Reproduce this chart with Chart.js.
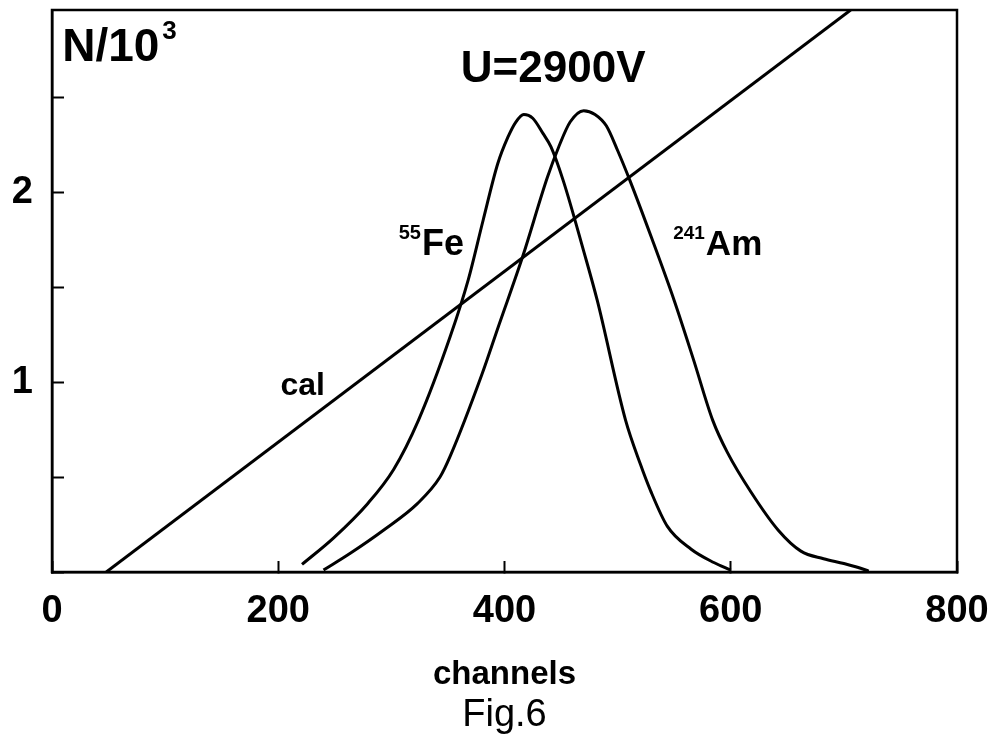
<!DOCTYPE html>
<html>
<head>
<meta charset="utf-8">
<script src="https://cdn.jsdelivr.net/npm/chart.js@4"></script>
<style>
    html, body { margin: 0; padding: 0; background: #fff; }
    #divChartFig6 { width: 1004px; height: 734px; }
</style>
</head>
<body>
<div id="divChartFig6"><canvas id="chartFig6"></canvas></div>
<script>
// spectra: channel -> N/10^3
var feChannels = [221, 249, 279, 302, 324, 352, 368, 381, 394, 403, 410, 417, 425, 434, 441, 452, 470, 482, 507, 520, 529, 544, 565, 585, 600];
var feCounts   = [0.04, 0.18, 0.36, 0.54, 0.80, 1.24, 1.54, 1.85, 2.15, 2.29, 2.37, 2.41, 2.39, 2.31, 2.24, 2.06, 1.69, 1.43, 0.80, 0.57, 0.43, 0.24, 0.12, 0.05, 0.01];

var amChannels = [240, 264, 293, 323, 343, 352, 380, 395, 416, 438, 448, 458, 470, 480, 490, 500, 511, 530, 550, 567, 584, 597, 618, 642, 662, 682, 700, 712, 722];
var amCounts   = [0.01, 0.10, 0.22, 0.36, 0.50, 0.61, 1.04, 1.30, 1.66, 2.08, 2.24, 2.37, 2.43, 2.41, 2.35, 2.22, 2.06, 1.76, 1.43, 1.12, 0.80, 0.63, 0.42, 0.22, 0.11, 0.07, 0.045, 0.025, 0.005];

// calibration line
var calChannels = [48, 706];
var calCounts   = [0, 2.96];

var xTickValues = [0, 200, 400, 600, 800];
var yTickValues = [0, 0.5, 1, 1.5, 2, 2.5];
var yTickLabels = { 1: '1', 2: '2' };

var fontFamily = '"Liberation Sans", Arial, Helvetica, sans-serif';

function toPoints(xs, ys) {
    var pts = [];
    for (var i = 0; i < xs.length; i++) {
        pts.push({ x: xs[i], y: ys[i] });
    }
    return pts;
}

// text with a small raised prefix, e.g. 55Fe
function drawSupText(ctx, sup, base, x, y, size) {
    ctx.font = 'bold ' + Math.round(size * 0.55) + 'px ' + fontFamily;
    var w = ctx.measureText(sup).width;
    ctx.fillText(sup, x - w - 1, y - size * 0.45);
    ctx.font = 'bold ' + size + 'px ' + fontFamily;
    ctx.fillText(base, x, y);
}

var annotations = {
    id: 'annotations',
    afterDraw: function(chart) {
        var ctx = chart.ctx;
        var xs = chart.scales.x, ys = chart.scales.y;
        var area = chart.chartArea;
        ctx.save();
        ctx.fillStyle = '#000';
        ctx.textBaseline = 'alphabetic';
        ctx.textAlign = 'left';

        // frame top and right
        ctx.strokeStyle = '#000';
        ctx.lineWidth = 2.5;
        ctx.strokeRect(area.left, area.top, area.right - area.left, area.bottom - area.top);

        // N/10^3
        ctx.font = 'bold 46px ' + fontFamily;
        var nx = xs.getPixelForValue(9), ny = ys.getPixelForValue(2.69);
        ctx.fillText('N/10', nx, ny);
        var nw = ctx.measureText('N/10').width;
        ctx.font = 'bold 26px ' + fontFamily;
        ctx.fillText('3', nx + nw + 3, ny - 22);

        // U=2900V
        ctx.font = 'bold 44px ' + fontFamily;
        ctx.textAlign = 'center';
        ctx.fillText('U=2900V', xs.getPixelForValue(443), ys.getPixelForValue(2.58));
        ctx.textAlign = 'left';

        drawSupText(ctx, '55', 'Fe', xs.getPixelForValue(327), ys.getPixelForValue(1.67), 36);
        drawSupText(ctx, '241', 'Am', xs.getPixelForValue(578), ys.getPixelForValue(1.67), 35);

        ctx.font = 'bold 32px ' + fontFamily;
        ctx.fillText('cal', xs.getPixelForValue(202), ys.getPixelForValue(0.93));

        // axis title and caption
        ctx.textAlign = 'center';
        var cx = xs.getPixelForValue(400);
        ctx.font = 'bold 33px ' + fontFamily;
        ctx.fillText('channels', cx, xs.bottom - 50);
        ctx.font = '38px ' + fontFamily;
        ctx.fillText('Fig.6', cx, xs.bottom - 8);
        ctx.restore();
    }
};

var lineStyle = {
    borderColor: '#000',
    borderWidth: 3,
    pointRadius: 0,
    fill: false,
    cubicInterpolationMode: 'monotone'
};

var chartData = {
    datasets: [
        Object.assign({ label: '55Fe', data: toPoints(feChannels, feCounts) }, lineStyle),
        Object.assign({ label: '241Am', data: toPoints(amChannels, amCounts) }, lineStyle),
        Object.assign({ label: 'cal', data: toPoints(calChannels, calCounts) }, lineStyle, { cubicInterpolationMode: 'default', tension: 0 })
    ]
};

var ctx = document.getElementById('chartFig6');
var fig6Chart = new Chart(ctx, {
    type: 'line',
    data: chartData,
    plugins: [annotations],
    options: {
        responsive: true,
        maintainAspectRatio: false,
        animation: false,
        layout: { padding: { top: 10, right: 47, left: 0, bottom: 0 } },
        plugins: {
            legend: { display: false },
            tooltip: { enabled: false }
        },
        scales: {
            x: {
                type: 'linear',
                min: 0,
                max: 800,
                afterBuildTicks: function(scale) {
                    scale.ticks = xTickValues.map(function(v) { return { value: v }; });
                },
                afterFit: function(scale) {
                    scale.height = 162;
                    scale.paddingLeft = 0;
                    scale.paddingRight = 0;
                },
                ticks: {
                    color: '#000',
                    padding: 28,
                    maxRotation: 0,
                    font: { family: fontFamily, size: 38, weight: 'bold' }
                },
                grid: {
                    drawOnChartArea: false,
                    tickLength: -11,
                    tickColor: '#000',
                    tickWidth: 2
                },
                border: { color: '#000', width: 2.5 }
            },
            y: {
                type: 'linear',
                min: 0,
                max: 2.96,
                afterBuildTicks: function(scale) {
                    scale.ticks = yTickValues.map(function(v) { return { value: v }; });
                },
                afterFit: function(scale) {
                    scale.width = 52;
                    scale.paddingTop = 0;
                    scale.paddingBottom = 0;
                },
                ticks: {
                    color: '#000',
                    padding: 31,
                    callback: function(value) { return yTickLabels[value] || ''; },
                    font: { family: fontFamily, size: 38, weight: 'bold' }
                },
                grid: {
                    drawOnChartArea: false,
                    tickLength: -12,
                    tickColor: '#000',
                    tickWidth: 2
                },
                border: { color: '#000', width: 2.5 }
            }
        }
    }
});
</script>
</body>
</html>
